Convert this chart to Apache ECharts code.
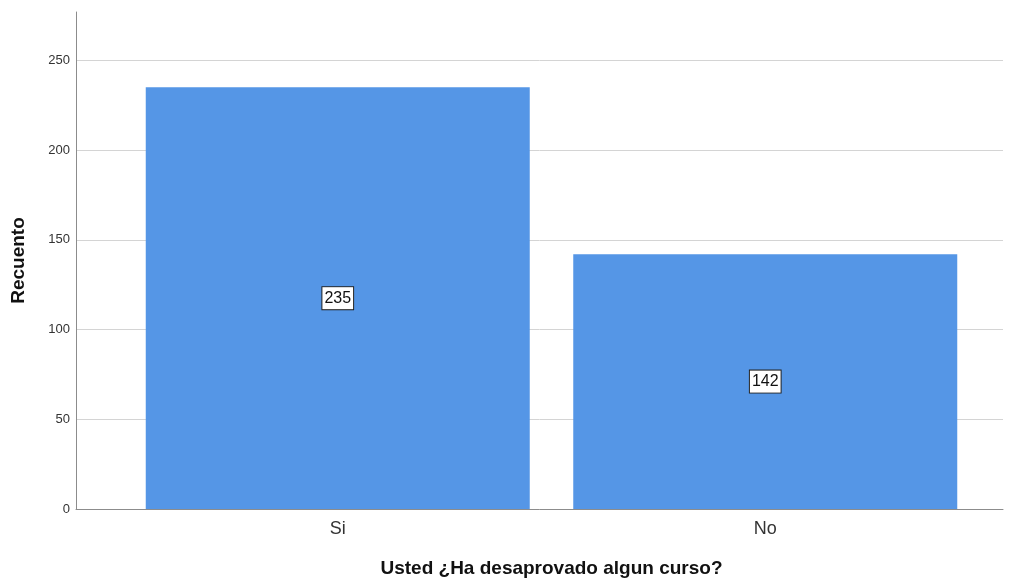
<!DOCTYPE html>
<html><head><meta charset="utf-8">
<script src="https://cdn.jsdelivr.net/npm/echarts@6/dist/echarts.min.js"></script>
<style>html,body{margin:0;padding:0;background:#fff}#c{width:1017px;height:584px}</style>
</head><body><div id="c"></div>
<script>
const categories = ['Si', 'No'];
const counts = [235, 142];
const yTicks = [0, 50, 100, 150, 200, 250];
const xTitle = 'Usted ¿Ha desaprovado algun curso?';
const yTitle = 'Recuento';

const FONT = '"Liberation Sans", Arial, sans-serif';
const chart = echarts.init(document.getElementById('c'), null, {renderer: 'canvas'});
chart.setOption({
  animation: false,
  backgroundColor: '#ffffff',
  grid: [
    {left: 76, right: 14, top: 12, bottom: 75},
    {left: 124, right: 38, top: 12, bottom: 75}
  ],
  xAxis: [
    {gridIndex: 0, type: 'value', min: 0, max: 1,
     axisLine: {show: true, lineStyle: {color: '#8c8c8c', width: 1}},
     axisTick: {show: false}, axisLabel: {show: false}, splitLine: {show: false}},
    {gridIndex: 1, type: 'category', data: categories,
     axisLine: {show: false}, axisTick: {show: false},
     axisLabel: {color: '#333', fontFamily: FONT, fontSize: 18, margin: 11},
     name: xTitle, nameLocation: 'middle', nameGap: 50,
     nameTextStyle: {color: '#111', fontFamily: FONT, fontSize: 19, fontWeight: 'bold'}}
  ],
  yAxis: [
    {gridIndex: 0, type: 'value', min: 0, max: 277, interval: 50,
     axisLine: {show: true, lineStyle: {color: '#8c8c8c', width: 1}},
     axisTick: {show: false},
     axisLabel: {color: '#333', fontFamily: FONT, fontSize: 13, margin: 6,
       formatter: v => yTicks.includes(v) ? String(v) : ''},
     splitLine: {show: true, showMaxLine: false, lineStyle: {color: '#d4d4d4', width: 1}},
     name: yTitle, nameLocation: 'middle', nameGap: 48,
     nameTextStyle: {color: '#111', fontFamily: FONT, fontSize: 19, fontWeight: 'bold'}},
    {gridIndex: 1, type: 'value', min: 0, max: 277, show: false, splitLine: {show: false}}
  ],
  series: [{
    type: 'bar', xAxisIndex: 1, yAxisIndex: 1,
    data: counts, barWidth: 384,
    itemStyle: {color: '#5596e6'},
    label: {show: true, position: 'inside', color: '#111', fontFamily: FONT, fontSize: 16,
      backgroundColor: '#fff', borderColor: '#222', borderWidth: 1, padding: [3, 2, 3, 2]}
  }]
});
</script></body></html>
